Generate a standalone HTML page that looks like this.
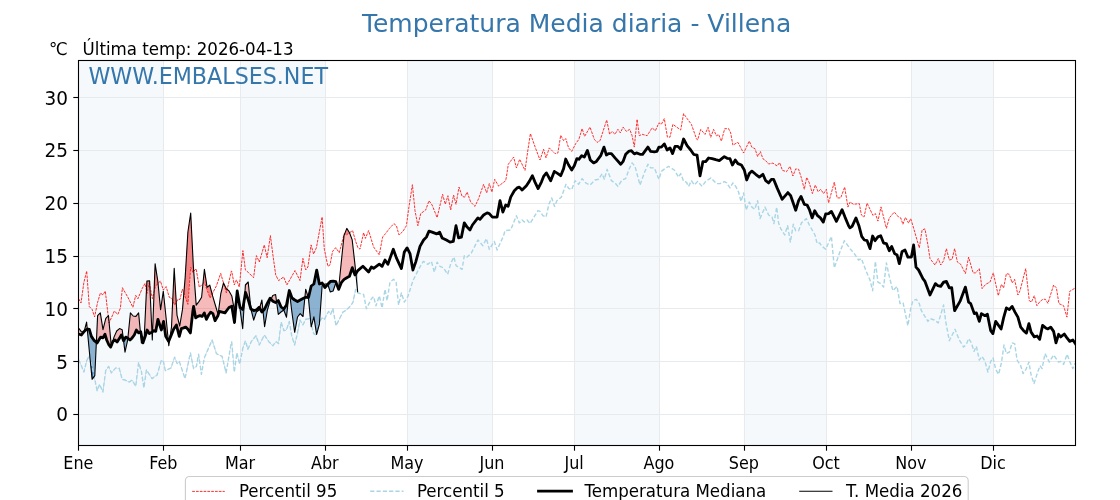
<!DOCTYPE html>
<html><head><meta charset="utf-8"><title>Temperatura Media diaria - Villena</title>
<style>
html,body{margin:0;padding:0;background:#fff;}
body{width:1120px;height:500px;overflow:hidden;}
svg{display:block;font-family:"DejaVu Sans","Liberation Sans",sans-serif;}
</style></head><body>
<svg width="1120" height="500" viewBox="0 0 1120 500">
<rect width="1120" height="500" fill="#ffffff"/>

<defs><clipPath id="clip"><rect x="78.4" y="60.0" width="996.8" height="385.0"/></clipPath>
<clipPath id="aboveMed"><polygon points="78.4,334.0 78.4,334.0 81.4,335.0 83.6,332.1 85.7,330.0 87.9,329.0 89.3,329.3 91.4,336.4 94.3,340.7 97.1,342.9 99.3,339.3 100.7,337.1 102.9,337.9 105.0,334.3 106.7,340.0 108.6,344.3 110.7,347.1 112.9,341.4 115.0,340.0 117.1,342.1 119.3,338.6 121.4,335.0 123.6,340.7 125.7,337.1 127.9,338.3 130.0,340.0 132.1,337.9 134.3,335.0 136.4,330.0 138.6,332.9 140.7,331.7 142.9,342.9 145.0,337.1 147.1,330.0 149.3,333.6 151.4,332.6 153.6,330.7 155.7,331.4 157.9,319.3 160.0,325.7 161.4,330.0 163.6,321.4 165.7,336.4 168.6,341.4 170.7,336.4 173.6,329.3 176.4,325.0 179.3,336.4 181.4,328.6 183.6,327.9 185.7,327.1 187.9,329.3 190.4,332.9 192.9,310.7 193.6,306.4 195.7,317.9 197.9,316.4 200.0,315.7 202.1,316.4 204.3,312.9 206.4,319.3 208.6,315.0 210.7,312.1 212.9,313.6 215.0,320.7 217.9,315.7 219.3,311.4 222.1,312.1 225.0,312.9 227.1,310.0 229.0,307.5 231.8,306.2 234.5,322.5 237.2,291.0 240.0,307.5 242.7,309.5 245.5,292.5 248.2,299.5 250.9,309.0 253.7,310.5 256.4,310.0 259.2,307.2 261.9,312.0 264.6,309.0 267.4,303.2 270.1,298.2 272.9,301.2 275.6,302.5 278.3,300.5 281.1,307.0 283.8,309.0 286.5,305.0 289.3,290.5 292.0,298.0 294.8,300.0 297.5,301.5 300.2,300.0 303.0,298.5 305.7,297.2 308.5,297.5 311.2,286.0 313.9,284.0 316.7,270.1 319.4,284.0 322.1,283.0 324.9,287.5 327.6,284.5 330.4,281.5 333.1,281.1 335.8,281.6 338.6,289.4 341.3,282.7 344.1,279.4 346.8,277.7 349.5,276.3 352.3,267.7 355.0,274.9 357.7,270.6 357.7,60.0 78.4,60.0"/></clipPath>
<clipPath id="belowMed"><polygon points="78.4,334.0 78.4,334.0 81.4,335.0 83.6,332.1 85.7,330.0 87.9,329.0 89.3,329.3 91.4,336.4 94.3,340.7 97.1,342.9 99.3,339.3 100.7,337.1 102.9,337.9 105.0,334.3 106.7,340.0 108.6,344.3 110.7,347.1 112.9,341.4 115.0,340.0 117.1,342.1 119.3,338.6 121.4,335.0 123.6,340.7 125.7,337.1 127.9,338.3 130.0,340.0 132.1,337.9 134.3,335.0 136.4,330.0 138.6,332.9 140.7,331.7 142.9,342.9 145.0,337.1 147.1,330.0 149.3,333.6 151.4,332.6 153.6,330.7 155.7,331.4 157.9,319.3 160.0,325.7 161.4,330.0 163.6,321.4 165.7,336.4 168.6,341.4 170.7,336.4 173.6,329.3 176.4,325.0 179.3,336.4 181.4,328.6 183.6,327.9 185.7,327.1 187.9,329.3 190.4,332.9 192.9,310.7 193.6,306.4 195.7,317.9 197.9,316.4 200.0,315.7 202.1,316.4 204.3,312.9 206.4,319.3 208.6,315.0 210.7,312.1 212.9,313.6 215.0,320.7 217.9,315.7 219.3,311.4 222.1,312.1 225.0,312.9 227.1,310.0 229.0,307.5 231.8,306.2 234.5,322.5 237.2,291.0 240.0,307.5 242.7,309.5 245.5,292.5 248.2,299.5 250.9,309.0 253.7,310.5 256.4,310.0 259.2,307.2 261.9,312.0 264.6,309.0 267.4,303.2 270.1,298.2 272.9,301.2 275.6,302.5 278.3,300.5 281.1,307.0 283.8,309.0 286.5,305.0 289.3,290.5 292.0,298.0 294.8,300.0 297.5,301.5 300.2,300.0 303.0,298.5 305.7,297.2 308.5,297.5 311.2,286.0 313.9,284.0 316.7,270.1 319.4,284.0 322.1,283.0 324.9,287.5 327.6,284.5 330.4,281.5 333.1,281.1 335.8,281.6 338.6,289.4 341.3,282.7 344.1,279.4 346.8,277.7 349.5,276.3 352.3,267.7 355.0,274.9 357.7,270.6 357.7,445.0 78.4,445.0"/></clipPath>
<clipPath id="above95"><polygon points="78.4,298.7 78.6,298.7 81.0,303.0 83.9,282.3 86.7,271.1 89.3,306.6 92.1,309.4 94.6,316.9 97.6,302.3 100.4,293.0 102.9,294.9 105.3,291.1 107.1,306.6 109.0,323.0 112.9,314.4 114.3,311.1 117.9,314.4 120.4,308.0 122.4,287.7 125.0,292.3 127.9,297.3 132.9,307.3 135.7,295.4 137.9,298.7 142.1,288.7 145.0,283.4 147.1,293.4 149.3,283.0 152.4,298.7 155.3,286.6 160.4,280.9 163.3,290.1 166.1,286.6 169.3,297.3 172.1,298.7 174.6,305.1 177.9,299.4 180.0,299.4 182.4,289.1 187.9,304.4 190.7,267.3 192.9,272.3 196.1,268.7 199.3,287.3 204.3,282.3 210.0,298.0 216.4,285.9 220.7,273.4 226.4,293.0 231.4,270.9 231.7,271.3 234.3,284.9 236.4,279.9 239.3,287.0 242.9,250.6 245.4,269.9 248.6,272.7 253.6,277.7 256.4,255.6 259.3,262.0 264.3,244.9 267.1,257.7 270.4,235.6 272.9,254.9 275.7,274.9 278.6,280.6 283.6,277.0 286.9,284.9 295.0,270.6 300.0,280.6 302.9,258.4 305.7,269.9 307.9,267.0 311.1,244.9 313.6,254.1 316.4,247.7 322.1,217.0 324.3,249.1 327.9,266.3 330.0,264.9 332.6,251.3 335.7,247.7 339.3,252.7 344.3,233.4 346.4,234.9 352.6,230.6 355.4,240.6 357.7,247.3 357.7,60.0 78.4,60.0"/></clipPath>
<clipPath id="below5"><polygon points="78.4,359.3 78.4,359.3 81.4,365.7 83.9,372.1 86.7,360.7 89.3,355.7 91.4,363.6 94.3,377.1 97.1,390.7 99.6,384.3 102.9,392.1 105.7,370.7 108.6,366.4 111.4,372.9 115.7,367.9 119.3,368.3 122.1,379.3 125.0,380.0 129.3,382.1 132.1,380.0 135.7,386.4 138.6,362.6 141.4,371.4 143.9,387.9 146.4,370.0 152.1,378.6 157.1,375.0 161.4,360.0 163.6,362.1 165.3,370.7 171.0,367.9 174.6,357.1 177.1,363.6 179.3,361.4 185.0,378.6 190.4,352.9 193.6,368.6 196.4,366.4 198.6,354.3 201.4,374.3 204.3,357.9 212.1,340.0 216.4,353.6 222.1,356.4 226.1,372.9 231.4,342.1 231.7,341.9 234.3,372.1 236.9,352.9 239.7,364.3 242.9,347.9 245.4,340.7 247.9,349.3 251.4,341.4 256.0,335.7 259.3,345.0 264.3,335.0 268.6,341.4 272.9,345.7 276.0,341.4 278.6,343.6 281.1,322.1 284.0,330.7 286.4,330.0 289.3,321.4 291.7,335.7 294.6,345.0 297.1,335.0 300.0,320.0 302.9,325.0 305.7,319.3 310.0,318.6 313.6,333.6 316.4,335.0 319.3,322.1 322.1,317.9 324.3,319.3 328.6,311.4 330.7,314.3 332.9,308.6 336.0,325.7 342.9,312.1 346.4,310.0 350.7,305.7 352.9,302.3 355.7,289.4 357.7,292.8 357.7,445.0 78.4,445.0"/></clipPath>
</defs>
<rect x="78.40" y="60.0" width="84.89" height="385.0" fill="#f5f9fc"/>
<rect x="239.97" y="60.0" width="84.89" height="385.0" fill="#f5f9fc"/>
<rect x="407.02" y="60.0" width="84.89" height="385.0" fill="#f5f9fc"/>
<rect x="574.06" y="60.0" width="84.89" height="385.0" fill="#f5f9fc"/>
<rect x="743.85" y="60.0" width="82.15" height="385.0" fill="#f5f9fc"/>
<rect x="910.89" y="60.0" width="82.15" height="385.0" fill="#f5f9fc"/>
<line x1="163.50" y1="60.0" x2="163.50" y2="445.0" stroke="#e8ebee" stroke-width="1"/>
<line x1="240.50" y1="60.0" x2="240.50" y2="445.0" stroke="#e8ebee" stroke-width="1"/>
<line x1="325.50" y1="60.0" x2="325.50" y2="445.0" stroke="#e8ebee" stroke-width="1"/>
<line x1="407.50" y1="60.0" x2="407.50" y2="445.0" stroke="#e8ebee" stroke-width="1"/>
<line x1="492.50" y1="60.0" x2="492.50" y2="445.0" stroke="#e8ebee" stroke-width="1"/>
<line x1="574.50" y1="60.0" x2="574.50" y2="445.0" stroke="#e8ebee" stroke-width="1"/>
<line x1="659.50" y1="60.0" x2="659.50" y2="445.0" stroke="#e8ebee" stroke-width="1"/>
<line x1="744.50" y1="60.0" x2="744.50" y2="445.0" stroke="#e8ebee" stroke-width="1"/>
<line x1="826.50" y1="60.0" x2="826.50" y2="445.0" stroke="#e8ebee" stroke-width="1"/>
<line x1="911.50" y1="60.0" x2="911.50" y2="445.0" stroke="#e8ebee" stroke-width="1"/>
<line x1="993.50" y1="60.0" x2="993.50" y2="445.0" stroke="#e8ebee" stroke-width="1"/>
<line x1="78.4" y1="414.50" x2="1075.2" y2="414.50" stroke="#e8ebee" stroke-width="1"/>
<line x1="78.4" y1="361.50" x2="1075.2" y2="361.50" stroke="#e8ebee" stroke-width="1"/>
<line x1="78.4" y1="308.50" x2="1075.2" y2="308.50" stroke="#e8ebee" stroke-width="1"/>
<line x1="78.4" y1="256.50" x2="1075.2" y2="256.50" stroke="#e8ebee" stroke-width="1"/>
<line x1="78.4" y1="203.50" x2="1075.2" y2="203.50" stroke="#e8ebee" stroke-width="1"/>
<line x1="78.4" y1="150.50" x2="1075.2" y2="150.50" stroke="#e8ebee" stroke-width="1"/>
<line x1="78.4" y1="97.50" x2="1075.2" y2="97.50" stroke="#e8ebee" stroke-width="1"/>
<g clip-path="url(#clip)" fill="none" stroke-linejoin="round">
<polygon points="78.4,327.9 81.1,331.4 83.9,332.5 86.6,322.1 89.4,352.0 92.1,379.3 94.8,375.7 97.6,315.7 100.3,312.9 103.0,329.7 105.8,318.3 108.5,315.7 111.3,346.4 114.0,337.1 116.7,331.0 119.5,328.6 122.2,329.7 125.0,352.1 127.7,340.0 130.4,312.9 133.2,316.0 135.9,316.4 138.6,312.9 141.4,343.0 144.1,340.0 146.9,281.0 149.6,280.7 152.3,340.0 155.1,263.7 157.8,281.0 160.6,309.7 163.3,291.2 166.0,317.0 168.8,345.7 171.5,327.0 174.2,268.3 177.0,315.1 179.7,326.0 182.5,309.4 185.2,277.0 187.9,232.0 190.7,213.0 193.4,267.0 196.2,305.1 198.9,301.6 201.6,297.3 204.4,269.4 207.1,287.3 209.8,285.1 212.6,295.9 215.3,305.0 218.1,314.4 220.8,293.7 223.5,283.0 226.3,288.7 229.0,290.9 231.8,295.9 234.5,310.9 237.2,290.5 240.0,309.0 242.7,328.7 245.4,285.0 248.2,282.0 250.9,309.0 253.7,320.1 256.4,312.0 259.1,310.0 261.9,300.0 264.6,326.6 267.4,310.0 270.1,301.0 272.8,295.5 275.6,294.5 278.3,314.4 281.0,312.0 283.8,310.0 286.5,317.3 289.3,290.5 292.0,313.0 294.7,332.3 297.5,317.0 300.2,313.6 303.0,316.5 305.7,289.2 308.4,298.0 311.2,326.8 313.9,316.8 316.6,334.4 319.4,324.0 322.1,286.0 324.9,284.0 327.6,284.0 330.3,292.0 333.1,291.0 335.8,283.0 338.6,288.5 341.3,262.0 344.0,235.6 346.8,228.4 349.5,232.7 352.2,239.9 355.0,264.9 357.7,292.3 357.7,270.6 355.0,274.9 352.3,267.7 349.5,276.3 346.8,277.7 344.1,279.4 341.3,282.7 338.6,289.4 335.8,281.6 333.1,281.1 330.4,281.5 327.6,284.5 324.9,287.5 322.1,283.0 319.4,284.0 316.7,270.1 313.9,284.0 311.2,286.0 308.5,297.5 305.7,297.2 303.0,298.5 300.2,300.0 297.5,301.5 294.8,300.0 292.0,298.0 289.3,290.5 286.5,305.0 283.8,309.0 281.1,307.0 278.3,300.5 275.6,302.5 272.9,301.2 270.1,298.2 267.4,303.2 264.6,309.0 261.9,312.0 259.2,307.2 256.4,310.0 253.7,310.5 250.9,309.0 248.2,299.5 245.5,292.5 242.7,309.5 240.0,307.5 237.2,291.0 234.5,322.5 231.8,306.2 229.0,307.5 227.1,310.0 225.0,312.9 222.1,312.1 219.3,311.4 217.9,315.7 215.0,320.7 212.9,313.6 210.7,312.1 208.6,315.0 206.4,319.3 204.3,312.9 202.1,316.4 200.0,315.7 197.9,316.4 195.7,317.9 193.6,306.4 192.9,310.7 190.4,332.9 187.9,329.3 185.7,327.1 183.6,327.9 181.4,328.6 179.3,336.4 176.4,325.0 173.6,329.3 170.7,336.4 168.6,341.4 165.7,336.4 163.6,321.4 161.4,330.0 160.0,325.7 157.9,319.3 155.7,331.4 153.6,330.7 151.4,332.6 149.3,333.6 147.1,330.0 145.0,337.1 142.9,342.9 140.7,331.7 138.6,332.9 136.4,330.0 134.3,335.0 132.1,337.9 130.0,340.0 127.9,338.3 125.7,337.1 123.6,340.7 121.4,335.0 119.3,338.6 117.1,342.1 115.0,340.0 112.9,341.4 110.7,347.1 108.6,344.3 106.7,340.0 105.0,334.3 102.9,337.9 100.7,337.1 99.3,339.3 97.1,342.9 94.3,340.7 91.4,336.4 89.3,329.3 87.9,329.0 85.7,330.0 83.6,332.1 81.4,335.0 78.4,334.0 78.4,334.0" fill="#e84a4a" fill-opacity="0.38" clip-path="url(#aboveMed)"/>
<polygon points="78.4,327.9 81.1,331.4 83.9,332.5 86.6,322.1 89.4,352.0 92.1,379.3 94.8,375.7 97.6,315.7 100.3,312.9 103.0,329.7 105.8,318.3 108.5,315.7 111.3,346.4 114.0,337.1 116.7,331.0 119.5,328.6 122.2,329.7 125.0,352.1 127.7,340.0 130.4,312.9 133.2,316.0 135.9,316.4 138.6,312.9 141.4,343.0 144.1,340.0 146.9,281.0 149.6,280.7 152.3,340.0 155.1,263.7 157.8,281.0 160.6,309.7 163.3,291.2 166.0,317.0 168.8,345.7 171.5,327.0 174.2,268.3 177.0,315.1 179.7,326.0 182.5,309.4 185.2,277.0 187.9,232.0 190.7,213.0 193.4,267.0 196.2,305.1 198.9,301.6 201.6,297.3 204.4,269.4 207.1,287.3 209.8,285.1 212.6,295.9 215.3,305.0 218.1,314.4 220.8,293.7 223.5,283.0 226.3,288.7 229.0,290.9 231.8,295.9 234.5,310.9 237.2,290.5 240.0,309.0 242.7,328.7 245.4,285.0 248.2,282.0 250.9,309.0 253.7,320.1 256.4,312.0 259.1,310.0 261.9,300.0 264.6,326.6 267.4,310.0 270.1,301.0 272.8,295.5 275.6,294.5 278.3,314.4 281.0,312.0 283.8,310.0 286.5,317.3 289.3,290.5 292.0,313.0 294.7,332.3 297.5,317.0 300.2,313.6 303.0,316.5 305.7,289.2 308.4,298.0 311.2,326.8 313.9,316.8 316.6,334.4 319.4,324.0 322.1,286.0 324.9,284.0 327.6,284.0 330.3,292.0 333.1,291.0 335.8,283.0 338.6,288.5 341.3,262.0 344.0,235.6 346.8,228.4 349.5,232.7 352.2,239.9 355.0,264.9 357.7,292.3 357.7,270.6 355.0,274.9 352.3,267.7 349.5,276.3 346.8,277.7 344.1,279.4 341.3,282.7 338.6,289.4 335.8,281.6 333.1,281.1 330.4,281.5 327.6,284.5 324.9,287.5 322.1,283.0 319.4,284.0 316.7,270.1 313.9,284.0 311.2,286.0 308.5,297.5 305.7,297.2 303.0,298.5 300.2,300.0 297.5,301.5 294.8,300.0 292.0,298.0 289.3,290.5 286.5,305.0 283.8,309.0 281.1,307.0 278.3,300.5 275.6,302.5 272.9,301.2 270.1,298.2 267.4,303.2 264.6,309.0 261.9,312.0 259.2,307.2 256.4,310.0 253.7,310.5 250.9,309.0 248.2,299.5 245.5,292.5 242.7,309.5 240.0,307.5 237.2,291.0 234.5,322.5 231.8,306.2 229.0,307.5 227.1,310.0 225.0,312.9 222.1,312.1 219.3,311.4 217.9,315.7 215.0,320.7 212.9,313.6 210.7,312.1 208.6,315.0 206.4,319.3 204.3,312.9 202.1,316.4 200.0,315.7 197.9,316.4 195.7,317.9 193.6,306.4 192.9,310.7 190.4,332.9 187.9,329.3 185.7,327.1 183.6,327.9 181.4,328.6 179.3,336.4 176.4,325.0 173.6,329.3 170.7,336.4 168.6,341.4 165.7,336.4 163.6,321.4 161.4,330.0 160.0,325.7 157.9,319.3 155.7,331.4 153.6,330.7 151.4,332.6 149.3,333.6 147.1,330.0 145.0,337.1 142.9,342.9 140.7,331.7 138.6,332.9 136.4,330.0 134.3,335.0 132.1,337.9 130.0,340.0 127.9,338.3 125.7,337.1 123.6,340.7 121.4,335.0 119.3,338.6 117.1,342.1 115.0,340.0 112.9,341.4 110.7,347.1 108.6,344.3 106.7,340.0 105.0,334.3 102.9,337.9 100.7,337.1 99.3,339.3 97.1,342.9 94.3,340.7 91.4,336.4 89.3,329.3 87.9,329.0 85.7,330.0 83.6,332.1 81.4,335.0 78.4,334.0 78.4,334.0" fill="#4682b4" fill-opacity="0.6" clip-path="url(#belowMed)"/>
<polygon points="78.4,327.9 81.1,331.4 83.9,332.5 86.6,322.1 89.4,352.0 92.1,379.3 94.8,375.7 97.6,315.7 100.3,312.9 103.0,329.7 105.8,318.3 108.5,315.7 111.3,346.4 114.0,337.1 116.7,331.0 119.5,328.6 122.2,329.7 125.0,352.1 127.7,340.0 130.4,312.9 133.2,316.0 135.9,316.4 138.6,312.9 141.4,343.0 144.1,340.0 146.9,281.0 149.6,280.7 152.3,340.0 155.1,263.7 157.8,281.0 160.6,309.7 163.3,291.2 166.0,317.0 168.8,345.7 171.5,327.0 174.2,268.3 177.0,315.1 179.7,326.0 182.5,309.4 185.2,277.0 187.9,232.0 190.7,213.0 193.4,267.0 196.2,305.1 198.9,301.6 201.6,297.3 204.4,269.4 207.1,287.3 209.8,285.1 212.6,295.9 215.3,305.0 218.1,314.4 220.8,293.7 223.5,283.0 226.3,288.7 229.0,290.9 231.8,295.9 234.5,310.9 237.2,290.5 240.0,309.0 242.7,328.7 245.4,285.0 248.2,282.0 250.9,309.0 253.7,320.1 256.4,312.0 259.1,310.0 261.9,300.0 264.6,326.6 267.4,310.0 270.1,301.0 272.8,295.5 275.6,294.5 278.3,314.4 281.0,312.0 283.8,310.0 286.5,317.3 289.3,290.5 292.0,313.0 294.7,332.3 297.5,317.0 300.2,313.6 303.0,316.5 305.7,289.2 308.4,298.0 311.2,326.8 313.9,316.8 316.6,334.4 319.4,324.0 322.1,286.0 324.9,284.0 327.6,284.0 330.3,292.0 333.1,291.0 335.8,283.0 338.6,288.5 341.3,262.0 344.0,235.6 346.8,228.4 349.5,232.7 352.2,239.9 355.0,264.9 357.7,292.3 357.7,247.3 355.4,240.6 352.6,230.6 346.4,234.9 344.3,233.4 339.3,252.7 335.7,247.7 332.6,251.3 330.0,264.9 327.9,266.3 324.3,249.1 322.1,217.0 316.4,247.7 313.6,254.1 311.1,244.9 307.9,267.0 305.7,269.9 302.9,258.4 300.0,280.6 295.0,270.6 286.9,284.9 283.6,277.0 278.6,280.6 275.7,274.9 272.9,254.9 270.4,235.6 267.1,257.7 264.3,244.9 259.3,262.0 256.4,255.6 253.6,277.7 248.6,272.7 245.4,269.9 242.9,250.6 239.3,287.0 236.4,279.9 234.3,284.9 231.7,271.3 231.4,270.9 226.4,293.0 220.7,273.4 216.4,285.9 210.0,298.0 204.3,282.3 199.3,287.3 196.1,268.7 192.9,272.3 190.7,267.3 187.9,304.4 182.4,289.1 180.0,299.4 177.9,299.4 174.6,305.1 172.1,298.7 169.3,297.3 166.1,286.6 163.3,290.1 160.4,280.9 155.3,286.6 152.4,298.7 149.3,283.0 147.1,293.4 145.0,283.4 142.1,288.7 137.9,298.7 135.7,295.4 132.9,307.3 127.9,297.3 125.0,292.3 122.4,287.7 120.4,308.0 117.9,314.4 114.3,311.1 112.9,314.4 109.0,323.0 107.1,306.6 105.3,291.1 102.9,294.9 100.4,293.0 97.6,302.3 94.6,316.9 92.1,309.4 89.3,306.6 86.7,271.1 83.9,282.3 81.0,303.0 78.6,298.7 78.4,298.7" fill="#ee5a5a" fill-opacity="0.55" clip-path="url(#above95)"/>
<polygon points="78.4,327.9 81.1,331.4 83.9,332.5 86.6,322.1 89.4,352.0 92.1,379.3 94.8,375.7 97.6,315.7 100.3,312.9 103.0,329.7 105.8,318.3 108.5,315.7 111.3,346.4 114.0,337.1 116.7,331.0 119.5,328.6 122.2,329.7 125.0,352.1 127.7,340.0 130.4,312.9 133.2,316.0 135.9,316.4 138.6,312.9 141.4,343.0 144.1,340.0 146.9,281.0 149.6,280.7 152.3,340.0 155.1,263.7 157.8,281.0 160.6,309.7 163.3,291.2 166.0,317.0 168.8,345.7 171.5,327.0 174.2,268.3 177.0,315.1 179.7,326.0 182.5,309.4 185.2,277.0 187.9,232.0 190.7,213.0 193.4,267.0 196.2,305.1 198.9,301.6 201.6,297.3 204.4,269.4 207.1,287.3 209.8,285.1 212.6,295.9 215.3,305.0 218.1,314.4 220.8,293.7 223.5,283.0 226.3,288.7 229.0,290.9 231.8,295.9 234.5,310.9 237.2,290.5 240.0,309.0 242.7,328.7 245.4,285.0 248.2,282.0 250.9,309.0 253.7,320.1 256.4,312.0 259.1,310.0 261.9,300.0 264.6,326.6 267.4,310.0 270.1,301.0 272.8,295.5 275.6,294.5 278.3,314.4 281.0,312.0 283.8,310.0 286.5,317.3 289.3,290.5 292.0,313.0 294.7,332.3 297.5,317.0 300.2,313.6 303.0,316.5 305.7,289.2 308.4,298.0 311.2,326.8 313.9,316.8 316.6,334.4 319.4,324.0 322.1,286.0 324.9,284.0 327.6,284.0 330.3,292.0 333.1,291.0 335.8,283.0 338.6,288.5 341.3,262.0 344.0,235.6 346.8,228.4 349.5,232.7 352.2,239.9 355.0,264.9 357.7,292.3 357.7,292.8 355.7,289.4 352.9,302.3 350.7,305.7 346.4,310.0 342.9,312.1 336.0,325.7 332.9,308.6 330.7,314.3 328.6,311.4 324.3,319.3 322.1,317.9 319.3,322.1 316.4,335.0 313.6,333.6 310.0,318.6 305.7,319.3 302.9,325.0 300.0,320.0 297.1,335.0 294.6,345.0 291.7,335.7 289.3,321.4 286.4,330.0 284.0,330.7 281.1,322.1 278.6,343.6 276.0,341.4 272.9,345.7 268.6,341.4 264.3,335.0 259.3,345.0 256.0,335.7 251.4,341.4 247.9,349.3 245.4,340.7 242.9,347.9 239.7,364.3 236.9,352.9 234.3,372.1 231.7,341.9 231.4,342.1 226.1,372.9 222.1,356.4 216.4,353.6 212.1,340.0 204.3,357.9 201.4,374.3 198.6,354.3 196.4,366.4 193.6,368.6 190.4,352.9 185.0,378.6 179.3,361.4 177.1,363.6 174.6,357.1 171.0,367.9 165.3,370.7 163.6,362.1 161.4,360.0 157.1,375.0 152.1,378.6 146.4,370.0 143.9,387.9 141.4,371.4 138.6,362.6 135.7,386.4 132.1,380.0 129.3,382.1 125.0,380.0 122.1,379.3 119.3,368.3 115.7,367.9 111.4,372.9 108.6,366.4 105.7,370.7 102.9,392.1 99.6,384.3 97.1,390.7 94.3,377.1 91.4,363.6 89.3,355.7 86.7,360.7 83.9,372.1 81.4,365.7 78.4,359.3 78.4,359.3" fill="#1f66ad" fill-opacity="0.85" clip-path="url(#below5)"/>
<polyline points="78.6,298.7 81.0,303.0 83.9,282.3 86.7,271.1 89.3,306.6 92.1,309.4 94.6,316.9 97.6,302.3 100.4,293.0 102.9,294.9 105.3,291.1 107.1,306.6 109.0,323.0 112.9,314.4 114.3,311.1 117.9,314.4 120.4,308.0 122.4,287.7 125.0,292.3 127.9,297.3 132.9,307.3 135.7,295.4 137.9,298.7 142.1,288.7 145.0,283.4 147.1,293.4 149.3,283.0 152.4,298.7 155.3,286.6 160.4,280.9 163.3,290.1 166.1,286.6 169.3,297.3 172.1,298.7 174.6,305.1 177.9,299.4 180.0,299.4 182.4,289.1 187.9,304.4 190.7,267.3 192.9,272.3 196.1,268.7 199.3,287.3 204.3,282.3 210.0,298.0 216.4,285.9 220.7,273.4 226.4,293.0 231.4,270.9 231.7,271.3 234.3,284.9 236.4,279.9 239.3,287.0 242.9,250.6 245.4,269.9 248.6,272.7 253.6,277.7 256.4,255.6 259.3,262.0 264.3,244.9 267.1,257.7 270.4,235.6 272.9,254.9 275.7,274.9 278.6,280.6 283.6,277.0 286.9,284.9 295.0,270.6 300.0,280.6 302.9,258.4 305.7,269.9 307.9,267.0 311.1,244.9 313.6,254.1 316.4,247.7 322.1,217.0 324.3,249.1 327.9,266.3 330.0,264.9 332.6,251.3 335.7,247.7 339.3,252.7 344.3,233.4 346.4,234.9 352.6,230.6 355.4,240.6 357.9,247.7 360.0,249.1 363.6,232.7 365.4,238.4 368.6,230.6 373.6,247.0 379.3,254.9 382.6,237.0 385.7,233.4 389.3,228.6 393.9,223.6 396.4,225.7 399.0,235.0 402.9,231.4 406.4,225.7 408.6,209.3 412.4,184.7 415.0,210.7 417.9,225.7 420.7,213.6 425.7,210.0 429.0,200.7 432.1,205.0 437.1,217.6 442.6,194.3 445.3,204.3 447.9,195.7 450.7,210.0 453.6,195.0 456.0,204.3 459.0,187.1 462.1,196.4 464.7,197.1 467.1,192.1 470.7,202.1 475.0,206.4 478.6,198.6 483.6,184.3 486.7,192.9 489.3,183.6 491.9,192.1 494.7,179.3 498.6,186.1 505.7,180.7 506.7,175.0 508.3,164.3 513.6,157.1 516.4,167.9 519.7,159.3 525.0,170.4 527.9,150.0 530.4,133.6 535.7,148.6 540.0,160.0 543.6,149.3 546.0,157.9 549.3,147.9 552.1,150.7 555.0,153.6 557.9,152.9 560.7,135.3 563.6,140.7 565.7,138.6 568.6,147.9 571.7,151.4 575.7,143.6 578.9,139.3 582.1,128.6 584.6,136.4 590.0,127.1 594.3,139.3 597.1,142.4 600.0,140.7 606.7,120.0 609.6,134.3 612.1,131.4 615.0,134.3 617.9,129.3 620.3,132.9 623.1,127.1 626.4,131.4 629.7,129.3 632.1,135.7 634.3,147.1 637.1,119.3 639.3,135.7 642.1,134.3 647.1,135.7 652.1,127.9 655.4,130.7 658.9,122.9 661.4,124.3 664.3,118.6 667.4,137.1 670.0,137.1 672.9,124.3 675.7,126.4 680.7,130.0 683.6,113.6 687.1,118.6 691.4,124.3 696.4,138.6 697.6,140.1 700.7,129.4 705.0,134.4 708.1,127.3 710.7,137.3 713.6,129.4 716.4,135.9 718.6,134.4 721.4,141.1 724.7,128.7 728.6,128.7 730.7,133.0 732.9,145.1 737.9,142.3 743.6,153.0 749.3,141.1 751.9,147.3 755.0,148.7 757.6,156.6 760.4,151.6 762.9,158.7 765.7,160.7 768.6,164.0 772.9,163.1 777.1,166.0 779.6,162.6 782.4,170.3 786.4,171.7 790.0,166.4 792.9,176.0 795.7,168.9 798.6,169.3 801.4,177.9 804.3,189.3 806.7,177.4 809.3,182.9 812.4,193.6 815.3,185.0 818.1,191.7 820.7,189.3 823.6,193.6 826.4,189.3 828.6,202.9 834.3,182.1 837.1,197.9 840.7,197.9 844.7,187.1 847.9,207.1 850.0,202.1 853.6,204.3 859.3,203.6 861.4,215.0 864.0,217.1 867.1,203.1 872.9,215.4 875.4,213.6 877.9,221.1 881.0,206.9 886.4,228.3 889.3,217.9 894.3,212.1 898.6,217.1 900.7,217.9 902.9,224.3 905.4,217.4 908.6,223.1 910.7,218.6 912.9,225.7 919.3,247.9 922.1,230.0 925.0,228.9 927.9,245.0 930.0,258.6 935.0,265.0 938.3,258.6 940.7,265.0 943.6,260.7 946.4,248.6 949.3,260.0 952.1,259.3 954.6,248.6 957.4,262.1 960.7,264.3 965.4,273.6 968.6,257.1 973.1,272.9 975.7,272.9 979.3,268.6 982.1,288.6 985.7,284.3 990.0,282.1 993.3,272.9 998.3,295.7 1001.4,284.3 1003.6,287.9 1006.4,273.6 1009.3,274.3 1012.1,282.9 1014.6,279.3 1017.9,295.0 1020.0,290.7 1025.7,268.6 1029.3,300.7 1031.4,302.1 1034.3,295.7 1036.9,305.7 1040.0,301.4 1042.9,299.3 1045.4,299.3 1047.9,303.3 1053.6,285.0 1056.4,287.9 1058.9,303.6 1063.6,305.7 1066.9,317.1 1069.7,291.4 1075.3,287.9" stroke="#ff1a1a" stroke-width="0.9" stroke-dasharray="2.7,1.1"/>
<polyline points="78.4,359.3 81.4,365.7 83.9,372.1 86.7,360.7 89.3,355.7 91.4,363.6 94.3,377.1 97.1,390.7 99.6,384.3 102.9,392.1 105.7,370.7 108.6,366.4 111.4,372.9 115.7,367.9 119.3,368.3 122.1,379.3 125.0,380.0 129.3,382.1 132.1,380.0 135.7,386.4 138.6,362.6 141.4,371.4 143.9,387.9 146.4,370.0 152.1,378.6 157.1,375.0 161.4,360.0 163.6,362.1 165.3,370.7 171.0,367.9 174.6,357.1 177.1,363.6 179.3,361.4 185.0,378.6 190.4,352.9 193.6,368.6 196.4,366.4 198.6,354.3 201.4,374.3 204.3,357.9 212.1,340.0 216.4,353.6 222.1,356.4 226.1,372.9 231.4,342.1 231.7,341.9 234.3,372.1 236.9,352.9 239.7,364.3 242.9,347.9 245.4,340.7 247.9,349.3 251.4,341.4 256.0,335.7 259.3,345.0 264.3,335.0 268.6,341.4 272.9,345.7 276.0,341.4 278.6,343.6 281.1,322.1 284.0,330.7 286.4,330.0 289.3,321.4 291.7,335.7 294.6,345.0 297.1,335.0 300.0,320.0 302.9,325.0 305.7,319.3 310.0,318.6 313.6,333.6 316.4,335.0 319.3,322.1 322.1,317.9 324.3,319.3 328.6,311.4 330.7,314.3 332.9,308.6 336.0,325.7 342.9,312.1 346.4,310.0 350.7,305.7 352.9,302.3 355.7,289.4 357.9,293.0 363.6,294.4 366.4,308.7 371.4,298.7 373.6,296.6 376.0,305.9 379.3,295.9 382.1,308.0 385.0,289.3 387.1,300.7 390.0,282.1 393.6,279.3 396.1,282.1 398.6,305.0 401.4,292.9 404.3,302.1 407.9,296.4 412.9,280.7 418.6,269.3 423.3,261.4 427.9,264.3 431.4,261.4 434.3,272.1 437.1,262.1 440.0,266.4 443.6,267.9 447.6,274.3 451.0,262.9 453.9,257.1 456.1,265.7 462.1,269.3 464.3,255.7 467.1,257.1 471.4,252.9 477.9,240.0 482.9,245.7 486.4,238.6 489.3,249.3 494.3,241.4 497.1,250.0 503.6,235.7 505.0,230.7 510.7,230.0 516.4,215.7 519.3,222.9 522.1,220.0 524.3,222.1 527.1,220.0 530.0,223.6 537.9,210.7 540.0,211.4 542.9,215.7 546.0,217.1 548.9,204.3 551.7,197.9 554.6,206.4 556.9,200.7 561.4,197.1 566.0,184.3 568.6,188.3 571.7,189.7 575.0,180.7 578.6,184.3 582.1,178.6 585.7,182.9 590.0,185.0 595.0,180.0 598.6,179.3 602.1,173.6 604.3,179.3 607.1,169.3 611.4,180.7 615.0,182.9 617.9,186.4 622.1,180.0 625.7,178.6 629.3,168.6 632.1,162.9 635.0,166.4 640.0,185.0 644.3,172.9 647.9,164.3 650.7,167.9 654.3,167.9 658.9,179.3 661.4,171.4 665.0,168.6 668.6,166.4 674.3,170.0 678.6,177.1 680.7,173.6 683.6,181.4 686.4,182.1 688.6,186.4 691.4,180.7 694.3,185.0 697.6,181.4 702.1,186.4 705.7,181.4 711.0,177.9 716.4,183.6 720.0,183.6 724.3,181.7 726.7,182.9 730.0,187.9 732.9,182.9 735.7,186.4 738.6,192.1 741.0,201.4 743.6,192.9 746.1,210.0 749.3,202.1 751.9,207.1 754.7,209.3 757.6,200.7 760.0,218.6 765.0,207.1 768.6,215.0 772.1,217.1 773.9,223.6 776.7,207.1 778.6,222.9 780.7,228.6 784.7,235.0 787.6,225.7 790.4,242.1 793.3,224.3 795.7,230.7 798.6,230.7 801.4,222.9 806.4,218.6 809.3,225.0 815.0,235.0 817.1,243.6 819.6,242.9 821.4,245.7 825.7,249.3 831.4,236.4 834.3,267.9 839.3,253.6 844.3,240.7 847.9,245.7 850.0,248.6 854.3,253.6 858.6,260.0 861.4,258.6 865.7,270.0 870.0,280.0 872.6,290.7 875.4,261.4 877.9,282.1 880.7,283.6 883.6,287.1 886.4,262.9 889.3,276.4 892.9,290.7 897.1,286.4 900.0,303.6 903.1,302.9 907.9,325.7 910.7,308.6 912.9,300.7 916.4,299.3 919.3,303.6 921.4,310.7 927.9,321.4 930.0,318.6 934.3,320.0 938.3,322.9 943.6,305.0 945.7,321.4 949.3,340.7 955.0,329.3 959.3,340.0 963.6,347.1 966.4,344.3 968.6,338.6 971.4,342.9 974.0,351.4 976.4,346.4 979.3,360.0 982.1,356.4 985.0,361.4 987.9,372.1 990.7,361.4 993.1,357.9 995.7,369.3 998.6,374.3 1001.4,362.9 1004.0,345.0 1006.4,353.6 1009.3,352.1 1012.1,342.9 1014.6,343.6 1017.1,360.0 1020.7,365.7 1023.1,373.6 1026.0,369.3 1028.9,362.1 1031.1,375.0 1034.0,383.6 1037.9,371.4 1040.0,365.7 1042.1,368.6 1045.0,353.6 1049.3,362.1 1053.6,355.0 1058.6,362.1 1060.7,361.4 1063.6,364.3 1067.1,354.3 1070.0,362.1 1072.9,368.6 1075.3,362.9" stroke="#a9d5e5" stroke-width="1.4" stroke-dasharray="4.2,2.1"/>
<polyline points="78.4,334.0 81.4,335.0 83.6,332.1 85.7,330.0 87.9,329.0 89.3,329.3 91.4,336.4 94.3,340.7 97.1,342.9 99.3,339.3 100.7,337.1 102.9,337.9 105.0,334.3 106.7,340.0 108.6,344.3 110.7,347.1 112.9,341.4 115.0,340.0 117.1,342.1 119.3,338.6 121.4,335.0 123.6,340.7 125.7,337.1 127.9,338.3 130.0,340.0 132.1,337.9 134.3,335.0 136.4,330.0 138.6,332.9 140.7,331.7 142.9,342.9 145.0,337.1 147.1,330.0 149.3,333.6 151.4,332.6 153.6,330.7 155.7,331.4 157.9,319.3 160.0,325.7 161.4,330.0 163.6,321.4 165.7,336.4 168.6,341.4 170.7,336.4 173.6,329.3 176.4,325.0 179.3,336.4 181.4,328.6 183.6,327.9 185.7,327.1 187.9,329.3 190.4,332.9 192.9,310.7 193.6,306.4 195.7,317.9 197.9,316.4 200.0,315.7 202.1,316.4 204.3,312.9 206.4,319.3 208.6,315.0 210.7,312.1 212.9,313.6 215.0,320.7 217.9,315.7 219.3,311.4 222.1,312.1 225.0,312.9 227.1,310.0 229.0,307.5 231.8,306.2 234.5,322.5 237.2,291.0 240.0,307.5 242.7,309.5 245.5,292.5 248.2,299.5 250.9,309.0 253.7,310.5 256.4,310.0 259.2,307.2 261.9,312.0 264.6,309.0 267.4,303.2 270.1,298.2 272.9,301.2 275.6,302.5 278.3,300.5 281.1,307.0 283.8,309.0 286.5,305.0 289.3,290.5 292.0,298.0 294.8,300.0 297.5,301.5 300.2,300.0 303.0,298.5 305.7,297.2 308.5,297.5 311.2,286.0 313.9,284.0 316.7,270.1 319.4,284.0 322.1,283.0 324.9,287.5 327.6,284.5 330.4,281.5 333.1,281.1 335.8,281.6 338.6,289.4 341.3,282.7 344.1,279.4 346.8,277.7 349.5,276.3 352.3,267.7 355.0,274.9 357.8,270.6 362.9,266.3 368.6,272.0 371.4,267.0 373.6,268.4 379.3,264.1 382.1,266.3 385.0,260.0 387.9,264.3 390.7,256.4 393.3,249.3 396.4,257.9 401.4,268.6 404.3,252.1 407.1,247.9 410.0,253.6 412.9,270.0 415.7,262.1 420.0,246.4 423.6,240.0 426.4,237.1 429.0,231.1 432.1,232.1 436.7,233.9 439.6,232.1 442.1,237.9 446.4,240.0 450.0,242.1 453.3,241.4 456.0,225.7 458.6,237.9 461.4,237.1 464.3,222.9 467.1,227.1 470.0,230.0 472.4,225.0 477.9,217.9 480.0,219.3 483.6,215.0 487.1,212.9 489.3,213.6 492.4,217.1 497.1,217.1 500.0,200.7 502.9,212.1 505.7,205.0 508.1,206.4 510.7,197.1 514.3,190.7 517.1,187.9 519.3,187.1 522.1,190.0 526.4,185.7 529.3,181.4 532.4,175.7 535.0,182.1 538.1,188.6 541.4,182.1 543.6,176.4 546.4,172.9 550.7,180.7 554.3,171.4 557.9,173.6 560.7,175.7 563.6,168.6 565.7,159.0 568.6,165.0 571.7,170.0 574.3,165.7 576.9,158.6 578.9,159.3 581.7,155.7 584.3,157.1 587.4,150.4 590.3,160.0 593.6,162.9 596.4,161.4 600.7,155.7 604.0,147.1 606.4,155.0 608.6,153.6 611.4,153.6 615.0,157.9 620.7,164.3 623.1,161.4 625.7,154.3 628.6,151.4 631.4,150.7 634.3,153.9 636.4,152.9 640.0,154.3 642.6,154.3 647.9,147.1 650.7,151.4 654.3,151.9 656.9,151.4 658.9,147.1 661.4,147.1 664.3,143.9 667.1,150.0 670.0,147.9 672.6,153.6 675.0,146.4 677.9,146.4 680.7,149.3 683.6,139.0 687.1,145.7 690.7,150.0 693.6,154.3 696.0,155.0 697.1,155.1 700.0,175.9 702.9,161.6 705.7,161.6 708.6,158.0 712.1,158.7 715.7,159.7 719.3,160.6 724.3,156.6 727.1,158.3 730.0,158.7 732.4,165.0 735.3,160.0 737.9,163.6 741.4,165.0 744.3,170.0 746.7,180.0 749.3,173.6 751.9,171.1 755.7,174.3 759.3,177.1 762.9,174.3 765.7,180.7 768.6,182.9 771.4,179.3 773.6,179.3 777.1,187.9 782.1,199.3 787.9,192.6 790.7,195.7 795.7,210.3 798.6,200.7 801.0,196.4 804.3,204.3 807.1,205.0 809.3,209.3 812.1,217.9 814.7,210.7 817.6,215.7 820.4,217.9 823.3,222.1 825.7,214.0 828.6,213.6 831.4,211.4 836.4,221.4 842.1,209.7 845.0,217.1 848.6,225.7 850.0,227.9 852.1,226.4 856.0,217.9 858.9,225.7 861.7,236.4 864.3,240.0 867.1,240.7 870.0,248.6 872.6,236.0 875.0,240.7 877.9,236.9 880.7,235.7 883.6,243.1 886.4,243.6 889.3,250.7 891.7,246.4 894.6,253.6 897.1,255.0 899.3,263.6 902.1,251.4 905.0,250.0 907.9,257.1 911.4,257.1 913.6,245.0 916.0,267.1 918.6,270.0 922.9,278.6 925.0,281.4 930.0,295.0 935.4,283.6 937.9,285.7 940.7,286.4 943.6,282.1 946.4,281.4 949.3,287.9 951.7,287.6 954.6,310.7 960.0,301.4 965.4,287.1 968.6,302.1 970.7,303.6 974.3,313.6 976.4,312.9 979.3,321.4 981.4,313.6 985.0,315.7 987.4,314.3 990.7,330.7 992.9,333.6 995.7,321.4 1001.1,329.0 1003.6,317.9 1006.4,307.9 1009.3,309.6 1012.1,306.4 1015.0,312.1 1017.9,317.1 1020.7,327.1 1023.6,330.7 1026.4,333.1 1028.9,323.6 1031.1,332.1 1034.3,336.9 1037.1,336.0 1039.7,339.3 1042.6,325.4 1045.7,327.9 1047.9,328.9 1050.7,327.1 1053.6,331.4 1056.0,342.9 1058.6,334.3 1060.7,336.9 1064.3,334.0 1066.4,337.1 1069.7,341.4 1072.9,340.0 1075.3,343.6" stroke="#000" stroke-width="2.8" stroke-linecap="square"/>
<polyline points="78.4,327.9 81.1,331.4 83.9,332.5 86.6,322.1 89.4,352.0 92.1,379.3 94.8,375.7 97.6,315.7 100.3,312.9 103.0,329.7 105.8,318.3 108.5,315.7 111.3,346.4 114.0,337.1 116.7,331.0 119.5,328.6 122.2,329.7 125.0,352.1 127.7,340.0 130.4,312.9 133.2,316.0 135.9,316.4 138.6,312.9 141.4,343.0 144.1,340.0 146.9,281.0 149.6,280.7 152.3,340.0 155.1,263.7 157.8,281.0 160.6,309.7 163.3,291.2 166.0,317.0 168.8,345.7 171.5,327.0 174.2,268.3 177.0,315.1 179.7,326.0 182.5,309.4 185.2,277.0 187.9,232.0 190.7,213.0 193.4,267.0 196.2,305.1 198.9,301.6 201.6,297.3 204.4,269.4 207.1,287.3 209.8,285.1 212.6,295.9 215.3,305.0 218.1,314.4 220.8,293.7 223.5,283.0 226.3,288.7 229.0,290.9 231.8,295.9 234.5,310.9 237.2,290.5 240.0,309.0 242.7,328.7 245.4,285.0 248.2,282.0 250.9,309.0 253.7,320.1 256.4,312.0 259.1,310.0 261.9,300.0 264.6,326.6 267.4,310.0 270.1,301.0 272.8,295.5 275.6,294.5 278.3,314.4 281.0,312.0 283.8,310.0 286.5,317.3 289.3,290.5 292.0,313.0 294.7,332.3 297.5,317.0 300.2,313.6 303.0,316.5 305.7,289.2 308.4,298.0 311.2,326.8 313.9,316.8 316.6,334.4 319.4,324.0 322.1,286.0 324.9,284.0 327.6,284.0 330.3,292.0 333.1,291.0 335.8,283.0 338.6,288.5 341.3,262.0 344.0,235.6 346.8,228.4 349.5,232.7 352.2,239.9 355.0,264.9 357.7,292.3" stroke="#000" stroke-width="1.1"/>
</g>
<rect x="78.5" y="60.5" width="997.0" height="385.0" fill="none" stroke="#000" stroke-width="1.1"/>
<line x1="78.50" y1="445.5" x2="78.50" y2="450.7" stroke="#000" stroke-width="1.1"/>
<text transform="translate(78.40,468.90) scale(0.96,1.05)" font-size="16.67" text-anchor="middle" fill="#000">Ene</text>
<line x1="163.50" y1="445.5" x2="163.50" y2="450.7" stroke="#000" stroke-width="1.1"/>
<text transform="translate(163.29,468.90) scale(0.96,1.05)" font-size="16.67" text-anchor="middle" fill="#000">Feb</text>
<line x1="240.50" y1="445.5" x2="240.50" y2="450.7" stroke="#000" stroke-width="1.1"/>
<text transform="translate(239.97,468.90) scale(0.96,1.05)" font-size="16.67" text-anchor="middle" fill="#000">Mar</text>
<line x1="325.50" y1="445.5" x2="325.50" y2="450.7" stroke="#000" stroke-width="1.1"/>
<text transform="translate(324.86,468.90) scale(0.96,1.05)" font-size="16.67" text-anchor="middle" fill="#000">Abr</text>
<line x1="407.50" y1="445.5" x2="407.50" y2="450.7" stroke="#000" stroke-width="1.1"/>
<text transform="translate(407.02,468.90) scale(0.96,1.05)" font-size="16.67" text-anchor="middle" fill="#000">May</text>
<line x1="492.50" y1="445.5" x2="492.50" y2="450.7" stroke="#000" stroke-width="1.1"/>
<text transform="translate(491.91,468.90) scale(0.96,1.05)" font-size="16.67" text-anchor="middle" fill="#000">Jun</text>
<line x1="574.50" y1="445.5" x2="574.50" y2="450.7" stroke="#000" stroke-width="1.1"/>
<text transform="translate(574.06,468.90) scale(0.96,1.05)" font-size="16.67" text-anchor="middle" fill="#000">Jul</text>
<line x1="659.50" y1="445.5" x2="659.50" y2="450.7" stroke="#000" stroke-width="1.1"/>
<text transform="translate(658.95,468.90) scale(0.96,1.05)" font-size="16.67" text-anchor="middle" fill="#000">Ago</text>
<line x1="744.50" y1="445.5" x2="744.50" y2="450.7" stroke="#000" stroke-width="1.1"/>
<text transform="translate(743.85,468.90) scale(0.96,1.05)" font-size="16.67" text-anchor="middle" fill="#000">Sep</text>
<line x1="826.50" y1="445.5" x2="826.50" y2="450.7" stroke="#000" stroke-width="1.1"/>
<text transform="translate(826.00,468.90) scale(0.96,1.05)" font-size="16.67" text-anchor="middle" fill="#000">Oct</text>
<line x1="911.50" y1="445.5" x2="911.50" y2="450.7" stroke="#000" stroke-width="1.1"/>
<text transform="translate(910.89,468.90) scale(0.96,1.05)" font-size="16.67" text-anchor="middle" fill="#000">Nov</text>
<line x1="993.50" y1="445.5" x2="993.50" y2="450.7" stroke="#000" stroke-width="1.1"/>
<text transform="translate(993.05,468.90) scale(0.96,1.05)" font-size="16.67" text-anchor="middle" fill="#000">Dic</text>
<line x1="73.3" y1="414.50" x2="78.5" y2="414.50" stroke="#000" stroke-width="1.1"/>
<text transform="translate(68.00,421.40) scale(0.95,1.03)" font-size="19.44" text-anchor="end" fill="#000">0</text>
<line x1="73.3" y1="361.50" x2="78.5" y2="361.50" stroke="#000" stroke-width="1.1"/>
<text transform="translate(68.00,368.62) scale(0.95,1.03)" font-size="19.44" text-anchor="end" fill="#000">5</text>
<line x1="73.3" y1="308.50" x2="78.5" y2="308.50" stroke="#000" stroke-width="1.1"/>
<text transform="translate(68.00,315.83) scale(0.95,1.03)" font-size="19.44" text-anchor="end" fill="#000">10</text>
<line x1="73.3" y1="256.50" x2="78.5" y2="256.50" stroke="#000" stroke-width="1.1"/>
<text transform="translate(68.00,263.05) scale(0.95,1.03)" font-size="19.44" text-anchor="end" fill="#000">15</text>
<line x1="73.3" y1="203.50" x2="78.5" y2="203.50" stroke="#000" stroke-width="1.1"/>
<text transform="translate(68.00,210.27) scale(0.95,1.03)" font-size="19.44" text-anchor="end" fill="#000">20</text>
<line x1="73.3" y1="150.50" x2="78.5" y2="150.50" stroke="#000" stroke-width="1.1"/>
<text transform="translate(68.00,157.48) scale(0.95,1.03)" font-size="19.44" text-anchor="end" fill="#000">25</text>
<line x1="73.3" y1="97.50" x2="78.5" y2="97.50" stroke="#000" stroke-width="1.1"/>
<text transform="translate(68.00,104.70) scale(0.95,1.03)" font-size="19.44" text-anchor="end" fill="#000">30</text>
<text transform="translate(576.60,32.00) scale(1.0,1.0)" font-size="25" text-anchor="middle" fill="#3576ab">Temperatura Media diaria - Villena</text>
<text transform="translate(49.00,55.00) scale(1.0,1.06)" font-size="16.67" text-anchor="start" fill="#000">℃</text>
<text transform="translate(82.60,55.00) scale(1.0,1.06)" font-size="16.67" text-anchor="start" fill="#000">Última temp: 2026-04-13</text>
<text x="88.4" y="84" font-size="22.2" fill="#3576ab">WWW.EMBALSES.NET</text>
<rect x="185.4" y="476.5" width="782.8" height="40" rx="4.2" ry="4.2" fill="#ffffff" fill-opacity="0.8" stroke="#cccccc" stroke-width="1.1"/>
<line x1="192.2" y1="491.4" x2="224.8" y2="491.4" stroke="#ff1a1a" stroke-width="0.9" stroke-dasharray="2.7,1.1"/>
<text transform="translate(238.90,496.70) scale(1.0,1.06)" font-size="16.67" text-anchor="start" fill="#000">Percentil 95</text>
<line x1="370.2" y1="491.2" x2="403.5" y2="491.2" stroke="#a9d5e5" stroke-width="1.4" stroke-dasharray="4.2,2.1"/>
<text transform="translate(416.90,496.70) scale(1.0,1.06)" font-size="16.67" text-anchor="start" fill="#000">Percentil 5</text>
<line x1="538.5" y1="491.2" x2="571.5" y2="491.2" stroke="#000" stroke-width="2.8" stroke-linecap="square"/>
<text transform="translate(584.40,496.70) scale(1.0,1.06)" font-size="16.67" text-anchor="start" fill="#000">Temperatura Mediana</text>
<line x1="799.2" y1="491.2" x2="832.5" y2="491.2" stroke="#000" stroke-width="1.1"/>
<text transform="translate(845.90,496.70) scale(1.0,1.06)" font-size="16.67" text-anchor="start" fill="#000">T. Media 2026</text>
</svg></body></html>
